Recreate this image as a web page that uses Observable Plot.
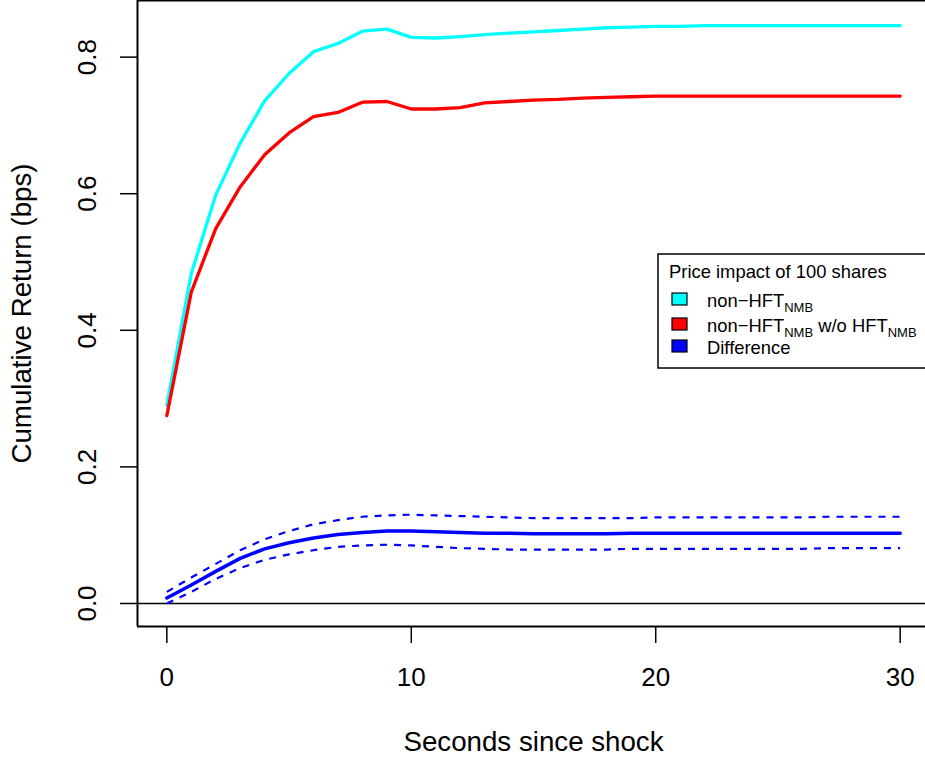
<!DOCTYPE html>
<html>
<head>
<meta charset="utf-8">
<script src="https://cdn.jsdelivr.net/npm/d3@7"></script>
<script src="https://cdn.jsdelivr.net/npm/@observablehq/plot@0.6"></script>
<style>
  html, body { margin: 0; padding: 0; background: #fff; overflow: hidden; }
  #wrap { position: relative; width: 925px; height: 762px; overflow: hidden; }
  #wrap svg { display: block; max-width: none !important; width: 935px !important; height: 762px !important; }
</style>
</head>
<body>
<div id="wrap"></div>
<script>
// ---- data ----
const seconds = [0,1,2,3,4,5,6,7,8,9,10,11,12,13,14,15,16,17,18,19,20,21,22,23,24,25,26,27,28,29,30];
const nonHft = [0.290,0.483,0.598,0.674,0.736,0.776,0.808,0.820,0.838,0.841,0.829,0.828,0.830,0.833,0.835,0.837,0.839,0.841,0.843,0.844,0.845,0.845,0.846,0.846,0.846,0.846,0.846,0.846,0.846,0.846,0.846];
const nonHftWoHft = [0.275,0.456,0.549,0.610,0.657,0.689,0.713,0.719,0.734,0.735,0.724,0.724,0.726,0.733,0.735,0.737,0.738,0.740,0.741,0.742,0.743,0.743,0.743,0.743,0.743,0.743,0.743,0.743,0.743,0.743,0.743];
const difference = [0.008,0.027,0.047,0.066,0.080,0.089,0.096,0.101,0.104,0.106,0.106,0.105,0.104,0.103,0.103,0.102,0.102,0.102,0.102,0.103,0.103,0.103,0.103,0.103,0.103,0.103,0.103,0.103,0.103,0.103,0.103];
const diffUpper = [0.017,0.038,0.058,0.078,0.094,0.106,0.116,0.122,0.127,0.129,0.130,0.129,0.128,0.127,0.126,0.125,0.125,0.125,0.125,0.125,0.126,0.126,0.126,0.126,0.126,0.126,0.126,0.127,0.127,0.127,0.127];
const diffLower = [0.000,0.017,0.036,0.052,0.064,0.072,0.078,0.083,0.085,0.086,0.085,0.083,0.081,0.080,0.079,0.079,0.079,0.079,0.079,0.080,0.080,0.080,0.080,0.080,0.080,0.080,0.080,0.081,0.081,0.081,0.081];

const xTicks = [0, 10, 20, 30];
const yTicks = [0.0, 0.2, 0.4, 0.6, 0.8];
const xLabel = "Seconds since shock";
const yLabel = "Cumulative Return (bps)";
const legendTitle = "Price impact of 100 shares";
const seriesNames = ["non\u2212HFT", "non\u2212HFT w/o HFT", "Difference"];
const seriesColors = ["#00FFFF", "#FF0000", "#0000FF"];

// ---- tables ----
const rows = (vals) => seconds.map((s, i) => ({s, v: vals[i]}));
const xDomain = [-1.2, 31.2];
const yDomain = [-0.0337, 0.8829];
const font = "'Liberation Sans', Arial, Helvetica, sans-serif";

const chart = Plot.plot({
  width: 935,
  height: 762,
  marginLeft: 137,
  marginRight: 6,
  marginTop: 0,
  marginBottom: 136,
  style: {fontFamily: font, fontSize: "26px", background: "#fff", color: "#000", overflow: "visible", maxWidth: "none"},
  x: {domain: xDomain},
  y: {domain: yDomain},
  marks: [
    // zero reference line
    Plot.ruleY([0], {stroke: "#000", strokeWidth: 1.3}),
    // series
    Plot.line(rows(nonHft), {x: "s", y: "v", stroke: seriesColors[0], strokeWidth: 3.3}),
    Plot.line(rows(nonHftWoHft), {x: "s", y: "v", stroke: seriesColors[1], strokeWidth: 3.3}),
    Plot.line(rows(difference), {x: "s", y: "v", stroke: seriesColors[2], strokeWidth: 3.5}),
    Plot.line(rows(diffUpper), {x: "s", y: "v", stroke: seriesColors[2], strokeWidth: 2.2, strokeDasharray: "7,7", strokeLinecap: "butt"}),
    Plot.line(rows(diffLower), {x: "s", y: "v", stroke: seriesColors[2], strokeWidth: 2.2, strokeDasharray: "7,7", strokeLinecap: "butt"}),
    // box
    Plot.ruleX([xDomain[0]], {stroke: "#000", strokeWidth: 2}),
    Plot.ruleY([yDomain[0]], {stroke: "#000", strokeWidth: 2}),
    Plot.ruleY([yDomain[1]], {stroke: "#000", strokeWidth: 2}),
    // axes
    Plot.axisX(xTicks, {tickSize: 17, tickPadding: 24, strokeWidth: 1.5, label: null, tickFormat: d => String(d)}),
    Plot.axisY(yTicks, {tickSize: 17, strokeWidth: 1.5, label: null, tickFormat: () => ""}),
    Plot.text(yTicks, {frameAnchor: "left", y: d => d, text: d => d.toFixed(1), rotate: -90, dx: -50, textAnchor: "middle", lineAnchor: "middle"}),
    // axis titles
    Plot.text([xLabel], {x: (xDomain[0] + xDomain[1]) / 2, frameAnchor: "bottom", dy: 116, text: d => d, textAnchor: "middle", lineAnchor: "middle", fontSize: 27.7}),
    Plot.text([yLabel], {frameAnchor: "left", y: (yDomain[0] + yDomain[1]) / 2, dx: -115, text: d => d, rotate: -90, textAnchor: "middle", lineAnchor: "middle", fontSize: 27.7})
  ]
});

// ---- legend inside the plot area ----
const svg = d3.select(chart);
const lg = svg.append("g").attr("font-family", font).attr("fill", "#000").attr("text-anchor", "start");
lg.append("rect").attr("x", 658).attr("y", 254).attr("width", 300).attr("height", 114)
  .attr("fill", "#fff").attr("stroke", "#000").attr("stroke-width", 1.5);
lg.append("text").attr("x", 669).attr("y", 278).attr("font-size", 18.4).text(legendTitle);
const rowBase = [307, 332, 354];
seriesNames.forEach((name, i) => {
  lg.append("rect").attr("x", 672).attr("y", rowBase[i] - 14).attr("width", 15).attr("height", 12)
    .attr("fill", seriesColors[i]).attr("stroke", "#000").attr("stroke-width", 1.2);
  const t = lg.append("text").attr("x", 707).attr("y", rowBase[i]).attr("font-size", 18.4);
  if (i === 0) {
    t.append("tspan").text("non\u2212HFT");
    t.append("tspan").attr("font-size", 13).attr("dy", 5).text("NMB");
  } else if (i === 1) {
    t.append("tspan").text("non\u2212HFT");
    t.append("tspan").attr("font-size", 13).attr("dy", 5).text("NMB");
    t.append("tspan").attr("dy", -5).text(" w/o HFT");
    t.append("tspan").attr("font-size", 13).attr("dy", 5).text("NMB");
  } else {
    t.text(name);
  }
});

document.getElementById("wrap").appendChild(chart);
</script>
</body>
</html>
